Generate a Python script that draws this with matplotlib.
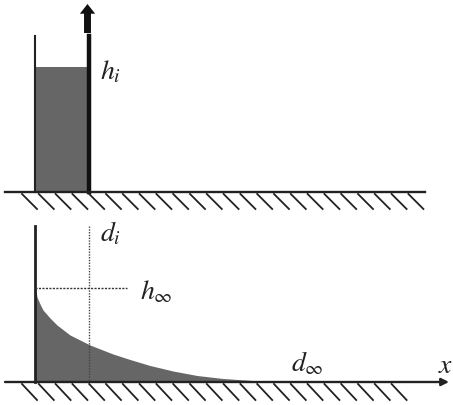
import matplotlib.pyplot as plt

plt.rcParams['mathtext.fontset'] = 'stix'

# everything is measured in picture pixels, y going down
curve_x = [35, 36, 37, 40, 43, 50, 57, 70, 90, 113, 130, 150, 173, 197, 223, 260, 290]
curve_y = [284, 291, 297, 304, 310, 318, 325, 335, 345, 354, 359.5, 365.5, 371, 375.5, 378.5, 381, 382]

top_ground_y = 192
bottom_ground_y = 382
hatch_starts_top = [22 + 16.8 * i for i in range(24)]
hatch_starts_bottom = [22 + 16.8 * i for i in range(23)]

wall_left = 35
wall_right = 88.5
water_top = 67
grey = '#666666'
dark = '#222222'

fig = plt.figure(figsize=(4.53, 4.05), dpi=100)
ax = fig.add_axes([0, 0, 1, 1])
ax.set_xlim(0, 453)
ax.set_ylim(405, 0)
ax.axis('off')

# top panel, the lock before release
ax.fill_between([wall_left, wall_right], [water_top, water_top], [top_ground_y, top_ground_y],
                color=grey, lw=0)
ax.plot([wall_left, wall_left], [36, top_ground_y], color=dark, lw=1.5)
ax.plot([wall_right, wall_right], [36, top_ground_y], color='#111111', lw=3.2)
ax.plot([5, 425], [top_ground_y, top_ground_y], color=dark, lw=1.7)
ax.annotate('', xy=(87.5, 4), xytext=(87.5, 33),
            arrowprops=dict(width=5, headwidth=11, headlength=7, color='#111111', lw=0,
                            shrinkA=0, shrinkB=0))
for x0 in hatch_starts_top:
    ax.plot([x0, x0 + 15], [top_ground_y + 2, top_ground_y + 17], color=dark, lw=1.3)

# bottom panel, the spreading current
ax.fill_between(curve_x, curve_y, bottom_ground_y, color=grey, lw=0)
ax.plot([wall_left, wall_left], [226, bottom_ground_y], color=dark, lw=2)
ax.plot([89, 89], [226, bottom_ground_y], color='#444444', lw=1, ls=(0, (1, 1)))
ax.plot([wall_left, 127], [288, 288], color='#333333', lw=1, ls=(0, (1.5, 1)))
ax.annotate('', xy=(449, bottom_ground_y), xytext=(5, bottom_ground_y),
            arrowprops=dict(arrowstyle='-|>', color=dark, lw=1.7, mutation_scale=11,
                            shrinkA=0, shrinkB=0))
for x0 in hatch_starts_bottom:
    ax.plot([x0, x0 + 15], [bottom_ground_y + 2, bottom_ground_y + 18], color=dark, lw=1.3)

# labels
labels = [(100, 71, r'$h_i$'), (100, 233, r'$d_i$'), (140, 291, r'$h_\infty$'),
          (291, 363, r'$d_\infty$'), (438, 365, r'$x$')]
for x, y, s in labels:
    ax.text(x, y, s, fontsize=20, color='#222222', ha='left', va='center')

fig.savefig('out.png', dpi=100)
